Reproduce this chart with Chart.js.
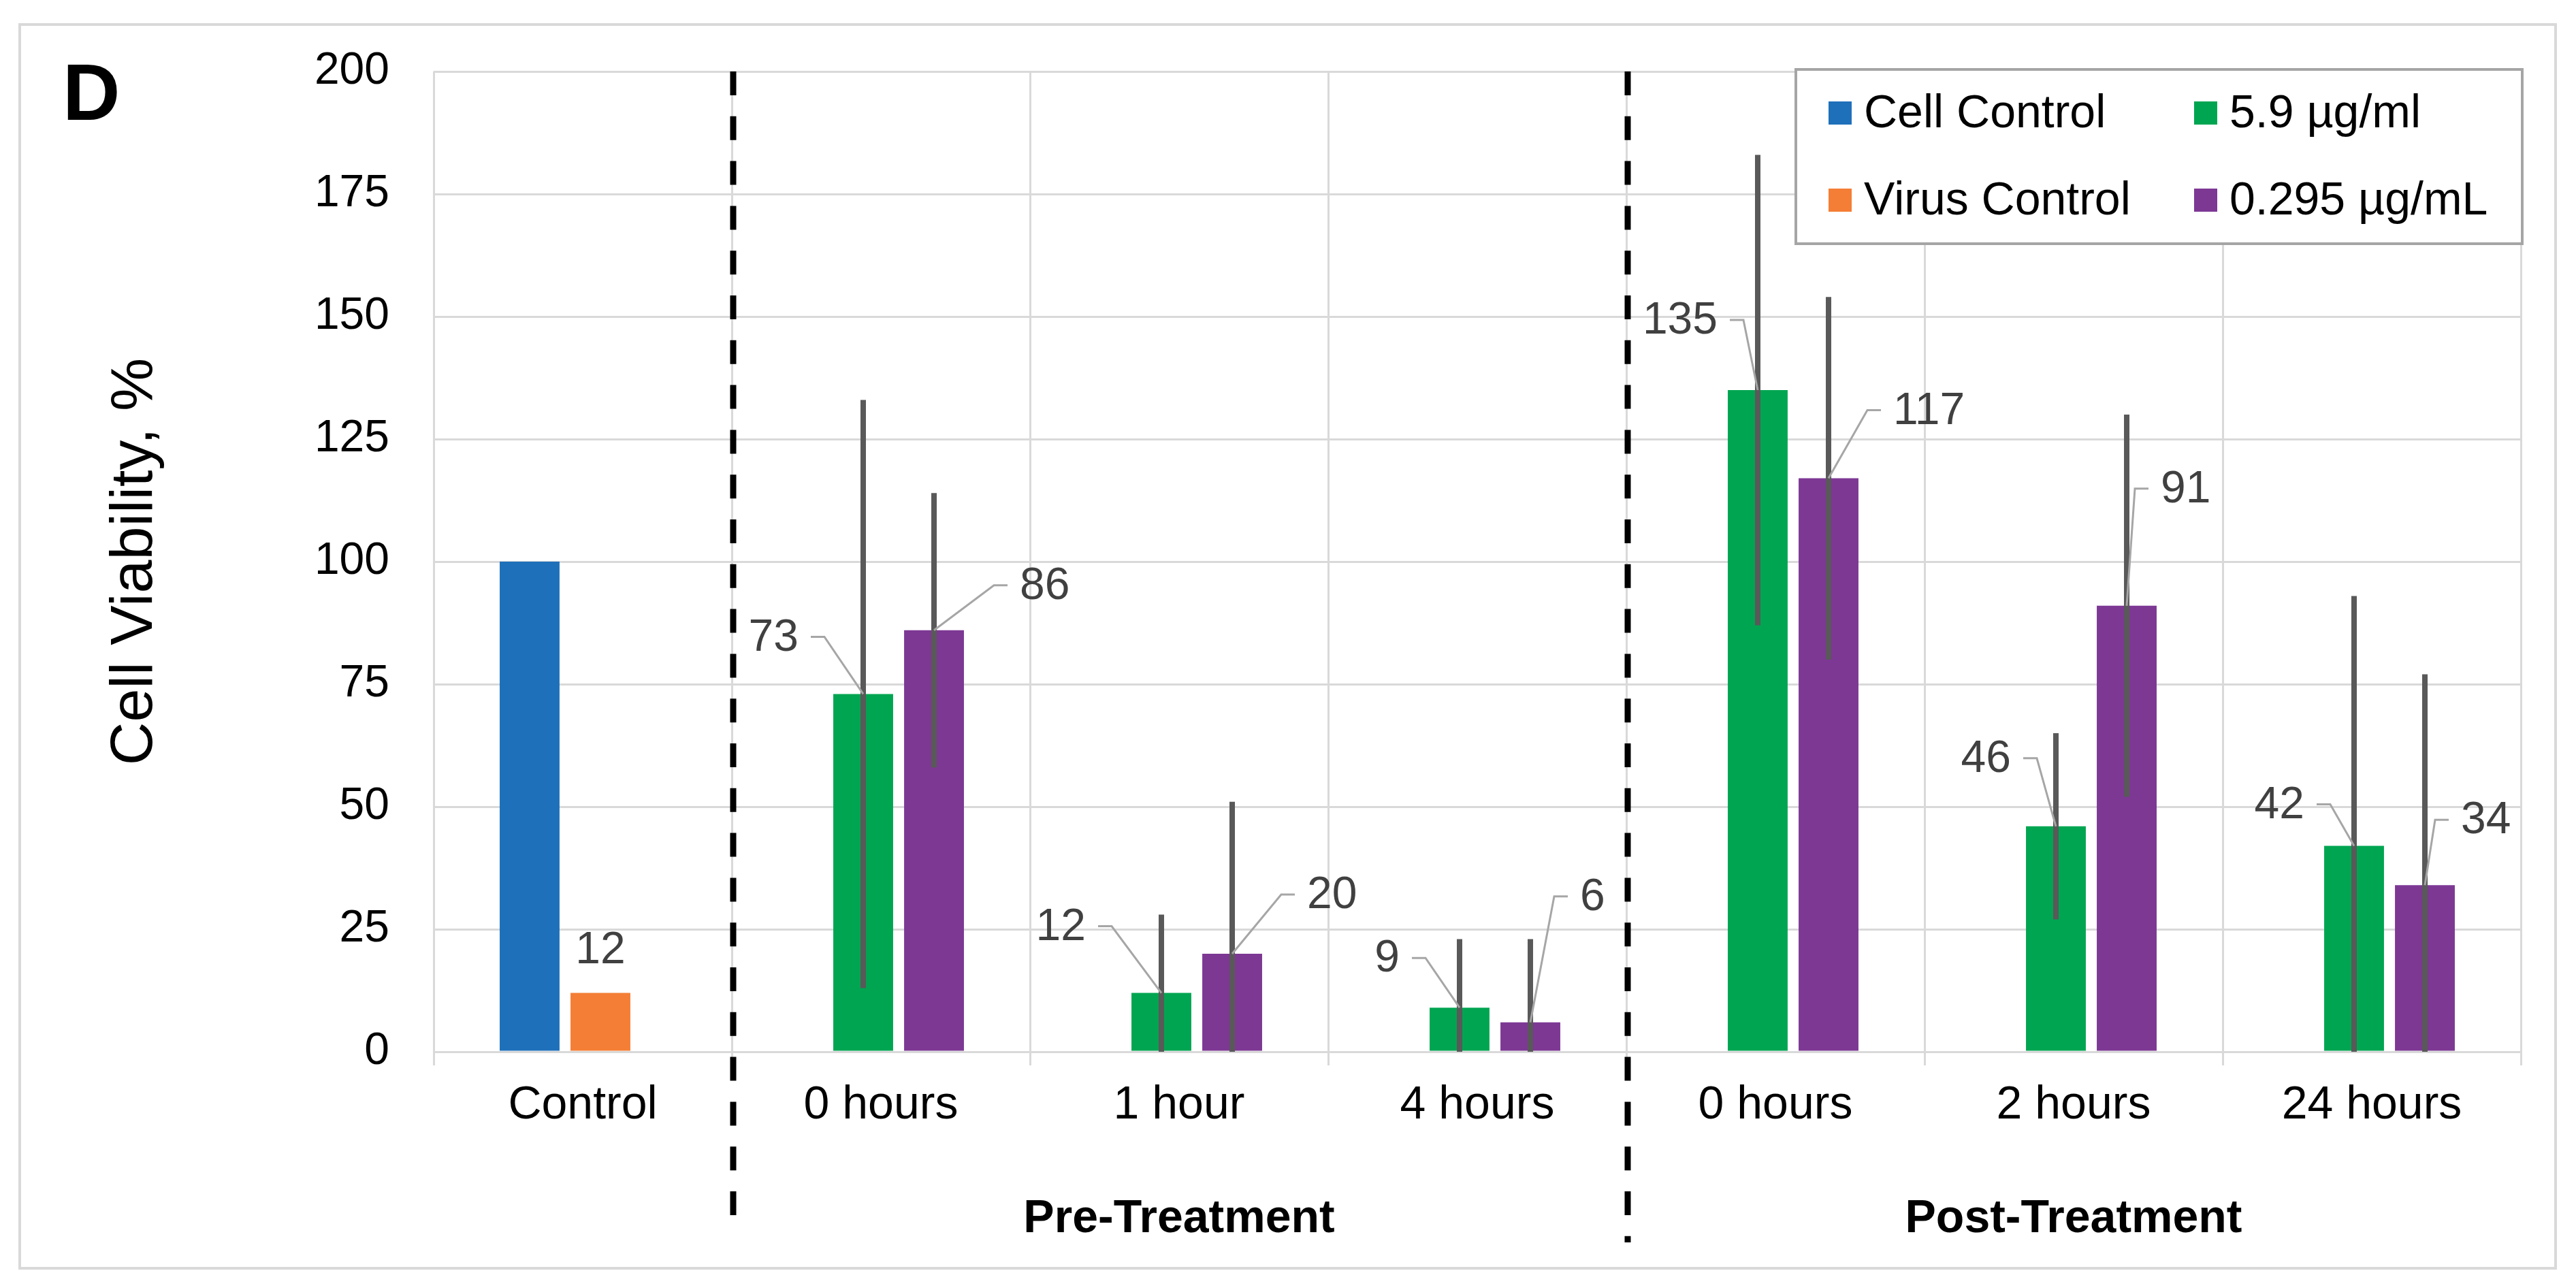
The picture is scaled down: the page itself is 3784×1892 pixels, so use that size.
<!DOCTYPE html>
<html>
<head>
<meta charset="utf-8">
<script src="https://cdn.jsdelivr.net/npm/chart.js@4.4.1/dist/chart.umd.min.js"></script>
<style>
  html, body { margin: 0; padding: 0; background: #ffffff; }
  canvas { display: block; }
</style>
</head>
<body>
<canvas id="c" width="3784" height="1892" style="width:3784px;height:1892px"></canvas>
<script>
// ---------------- DATA ----------------
const categories = ['Control', '0 hours', '1 hour', '4 hours', '0 hours', '2 hours', '24 hours'];
const cellControl   = [100, null, null, null, null, null, null];
const virusControl  = [12,  null, null, null, null, null, null];
const dose59        = [null, 73, 12, 9, 135, 46, 42];
const dose59Err     = [null, 60, 16, 14, 48, 19, 51];
const dose0295      = [null, 86, 20, 6, 117, 91, 34];
const dose0295Err   = [null, 28, 31, 17, 37, 39, 43];
const yTicks        = [0, 25, 50, 75, 100, 125, 150, 175, 200];
const groupLabels   = ['Pre-Treatment', 'Post-Treatment'];
const groupFrom     = [1, 4];
const groupTo       = [3, 6];
const separatorsAt  = [0.5, 3.5];

// ---------------- STYLE ----------------
const FONT = "'Liberation Sans', Arial, Helvetica, sans-serif";
const COLORS = { cell: '#1F70BA', virus: '#F47E35', d59: '#00A551', d0295: '#7D3894' };
// leader-line elbow offsets (px) from bar top centre, per category
const leftElbows  = [null, [-57, -84], [-73, -98], [-50, -73], [-21, -103], [-28, -100], [-35, -61]];
const rightElbows = [null, [88, -66], [72, -87], [35, -185], [57, -100], [12, -172], [15, -96]];

Chart.defaults.font.family = FONT;

const errorBarPlugin = {
  id: 'errorBars',
  afterDatasetsDraw(chart) {
    const ctx = chart.ctx, y = chart.scales.y;
    ctx.save();
    chart.data.datasets.forEach((ds, di) => {
      if (!ds.errors) return;
      const meta = chart.getDatasetMeta(di);
      ds.data.forEach((v, i) => {
        const e = ds.errors[i];
        if (v == null || e == null) return;
        const bar = meta.data[i];
        const yt = y.getPixelForValue(v + e);
        const yb = y.getPixelForValue(Math.max(0, v - e));
        ctx.strokeStyle = '#595959';
        ctx.lineWidth = 8;
        ctx.lineCap = 'butt';
        ctx.beginPath();
        ctx.moveTo(bar.x, yt);
        ctx.lineTo(bar.x, yb);
        ctx.stroke();
      });
    });
    ctx.restore();
  }
};

const labelPlugin = {
  id: 'valueLabels',
  afterDatasetsDraw(chart) {
    const ctx = chart.ctx;
    ctx.save();
    ctx.font = '66px ' + FONT;
    ctx.fillStyle = '#404040';
    ctx.textBaseline = 'middle';
    chart.data.datasets.forEach((ds, di) => {
      if (!ds.labelMode) return;
      const meta = chart.getDatasetMeta(di);
      ds.data.forEach((v, i) => {
        if (v == null) return;
        const bar = meta.data[i];
        const bx = bar.x, by = bar.y;
        const txt = String(v);
        if (ds.labelMode === 'above') {
          ctx.textAlign = 'center';
          ctx.fillText(txt, bx, by - 62);
          return;
        }
        const el = ds.labelMode === 'left' ? leftElbows[i] : rightElbows[i];
        const ex = bx + el[0], ey = by + el[1];
        const dir = ds.labelMode === 'left' ? -1 : 1;
        ctx.strokeStyle = '#A6A6A6';
        ctx.lineWidth = 3;
        ctx.beginPath();
        ctx.moveTo(bx, by);
        ctx.lineTo(ex, ey);
        ctx.lineTo(ex + dir * 20, ey);
        ctx.stroke();
        ctx.textAlign = dir < 0 ? 'right' : 'left';
        ctx.fillText(txt, ex + dir * 38, ey + 2);
      });
    });
    ctx.restore();
  }
};

const decorPlugin = {
  id: 'decor',
  afterDraw(chart) {
    const ctx = chart.ctx, x = chart.scales.x, area = chart.chartArea;
    ctx.save();
    // outer frame
    ctx.strokeStyle = '#D9D9D9';
    ctx.lineWidth = 4;
    ctx.strokeRect(29, 36, 3725, 1827);
    // separators
    ctx.strokeStyle = '#000000';
    ctx.lineWidth = 9;
    ctx.setLineDash([35, 30.8]);
    const bottoms = [area.bottom + 255, area.bottom + 280];
    separatorsAt.forEach((v, k) => {
      const px = x.getPixelForValue(v) + 2;
      ctx.beginPath();
      ctx.moveTo(px, area.top);
      ctx.lineTo(px, bottoms[k]);
      ctx.stroke();
    });
    ctx.setLineDash([]);
    // group labels
    ctx.fillStyle = '#000000';
    ctx.font = 'bold 68px ' + FONT;
    ctx.textAlign = 'center';
    ctx.textBaseline = 'alphabetic';
    groupLabels.forEach((t, k) => {
      const cx = (x.getPixelForValue(groupFrom[k] - 0.5) + x.getPixelForValue(groupTo[k] + 0.5)) / 2;
      ctx.fillText(t, cx, area.bottom + 265);
    });
    // panel letter
    ctx.font = 'bold 117px ' + FONT;
    ctx.textAlign = 'left';
    ctx.fillText('D', 92, 176);
    // legend
    const bw = 1067, bh = 256;
    const lx = area.right + 2 - bw, ly = area.top - 3;
    ctx.fillStyle = '#FFFFFF';
    ctx.fillRect(lx, ly, bw, bh);
    ctx.strokeStyle = '#A5A5A5';
    ctx.lineWidth = 4;
    ctx.strokeRect(lx, ly, bw, bh);
    const colX = [lx + 48, lx + 585];
    const rowY = [ly + 64, ly + 192];
    ctx.font = '68px ' + FONT;
    ctx.textBaseline = 'middle';
    chart.data.datasets.forEach((ds, di) => {
      const col = di % 2, row = Math.floor(di / 2);
      ctx.fillStyle = ds.backgroundColor;
      ctx.fillRect(colX[col], rowY[row] - 17, 34, 34);
      ctx.fillStyle = '#000000';
      ctx.fillText(ds.label, colX[col] + 52, rowY[row] + 2);
    });
    ctx.restore();
  }
};

new Chart(document.getElementById('c'), {
  type: 'bar',
  data: {
    labels: categories,
    datasets: [
      { label: 'Cell Control',  data: cellControl,  backgroundColor: COLORS.cell },
      { label: '5.9 µg/ml',     data: dose59,       backgroundColor: COLORS.d59,  errors: dose59Err,  labelMode: 'left' },
      { label: 'Virus Control', data: virusControl, backgroundColor: COLORS.virus, labelMode: 'above' },
      { label: '0.295 µg/mL',   data: dose0295,     backgroundColor: COLORS.d0295, errors: dose0295Err, labelMode: 'right' }
    ]
  },
  options: {
    responsive: false,
    animation: false,
    devicePixelRatio: 1,
    layout: { padding: { left: 0, top: 105, right: 81, bottom: 0 } },
    datasets: { bar: { categoryPercentage: 0.475, barPercentage: 1.69, borderWidth: 0 } },
    plugins: { legend: { display: false }, tooltip: { enabled: false } },
    scales: {
      x: {
        grid: { color: '#D9D9D9', lineWidth: 3, offset: true, tickLength: 20, drawTicks: true },
        border: { display: false },
        ticks: { color: '#000000', font: { size: 68 }, padding: 18, maxRotation: 0, autoSkip: false },
        afterFit: s => { s.height = 347; }
      },
      y: {
        min: 0, max: 200,
        afterBuildTicks: s => { s.ticks = yTicks.map(v => ({ value: v })); },
        grid: { color: '#D9D9D9', lineWidth: 3, drawTicks: false },
        border: { display: false },
        ticks: { color: '#000000', font: { size: 66 }, padding: 65 },
        title: { display: true, text: 'Cell Viability, %', color: '#000000', font: { size: 88 }, padding: { top: 146, bottom: 0 } },
        afterFit: s => { s.width = 637; }
      }
    }
  },
  plugins: [errorBarPlugin, labelPlugin, decorPlugin]
});
</script>
</body>
</html>
